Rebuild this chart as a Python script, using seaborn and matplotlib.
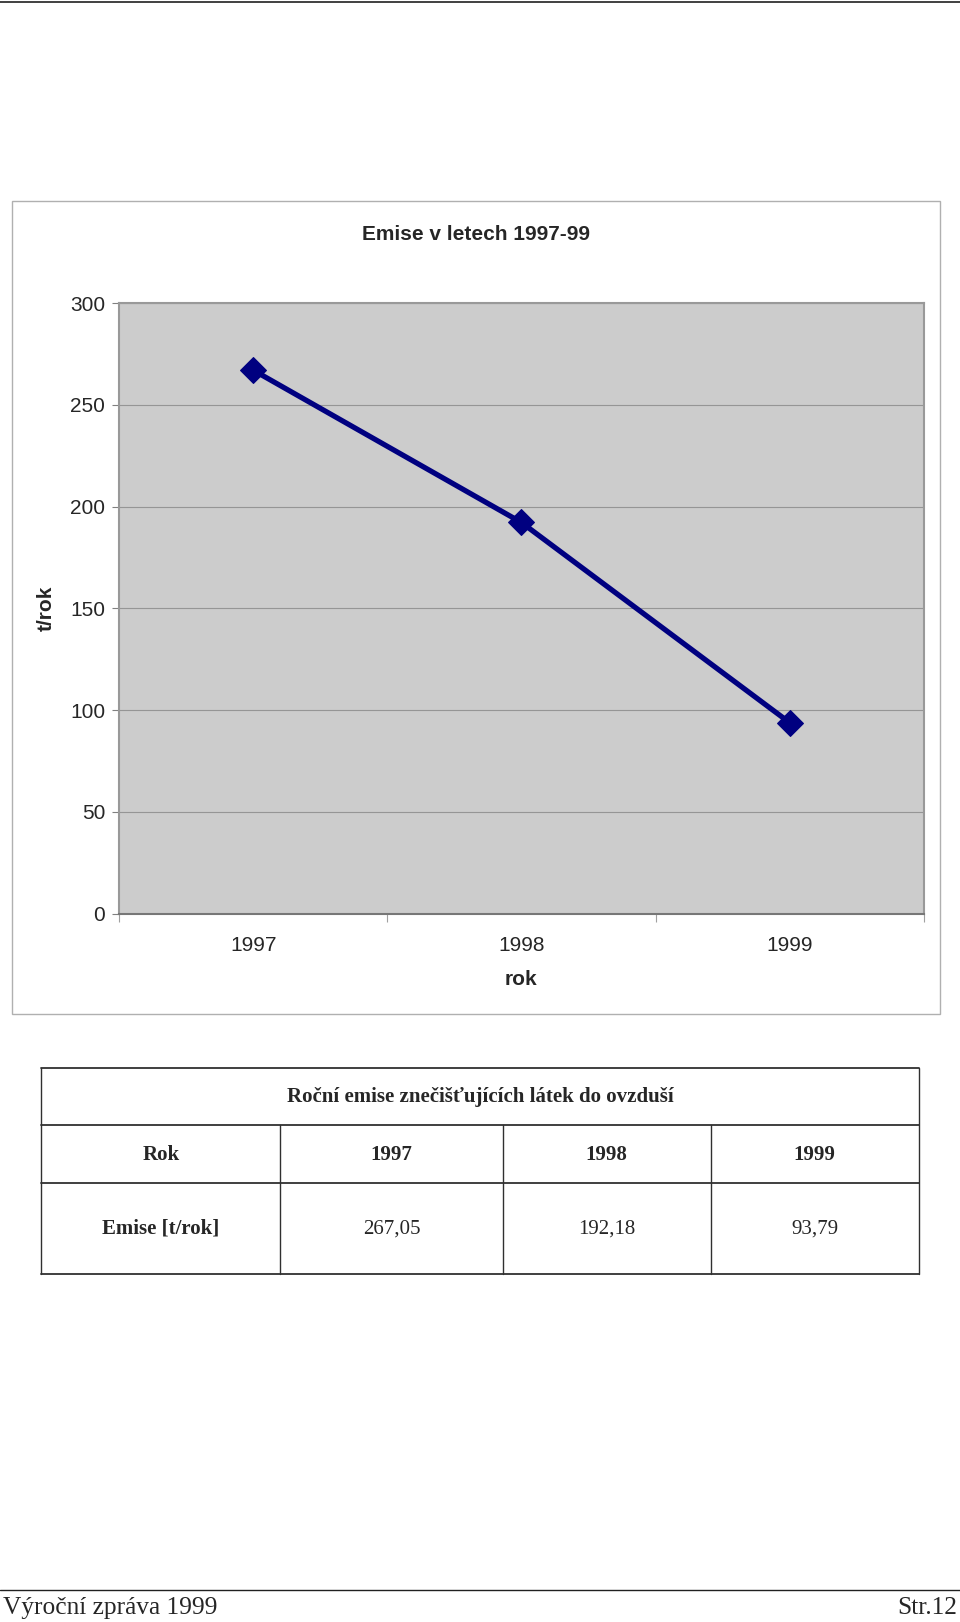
import numpy as np
import pandas as pd
import seaborn as sns
import matplotlib.pyplot as plt
from matplotlib.patches import Rectangle
from matplotlib.lines import Line2D

# Data
years = [1997, 1998, 1999]
emise = [267.05, 192.18, 93.79]
emise_txt = ['267,05', '192,18', '93,79']
y_ticks = [0, 50, 100, 150, 200, 250, 300]

W, H = 960, 1622

sns.set_style('white')
plt.rcParams['font.family'] = ['Liberation Sans', 'DejaVu Sans']

fig = plt.figure(figsize=(W / 100, H / 100), dpi=100)


def fx(x):
    return x / W


def fy(y):
    return 1 - y / H


# page lines (top and footer)
fig.add_artist(Line2D([0, 1], [fy(2), fy(2)], color='#404040', lw=1.4))
fig.add_artist(Line2D([0, 1], [fy(1590), fy(1590)], color='#202020', lw=1.0))

# chart frame
fig.add_artist(Rectangle((fx(12.4), fy(1013.8)), fx(940.3) - fx(12.4), fy(200.7) - fy(1013.8),
                         fill=False, edgecolor='#b0b0b0', lw=1.0))

ax = fig.add_axes([fx(119), fy(913.5), fx(923.8) - fx(119), fy(303.1) - fy(913.5)])
ax.set_facecolor('#cccccc')

df = pd.DataFrame({'rok': years, 'emise': emise})
sns.lineplot(data=df, x='rok', y='emise', ax=ax, color='#000080', lw=3.8,
             marker='D', markersize=13, markeredgecolor='#000080', zorder=3)

ax.set_xlim(1996.5, 1999.5)
ax.set_ylim(0, 300)
ax.set_yticks(y_ticks)
ax.set_yticklabels([str(v) for v in y_ticks], fontsize=15)
ax.yaxis.grid(True, color='#959595', lw=0.8)
ax.set_axisbelow(True)

# category boundaries as major ticks, labels at centres
ax.set_xticks([1996.5, 1997.5, 1998.5, 1999.5])
ax.set_xticklabels([])
ax.set_xticks(years, minor=True)
ax.set_xticklabels([str(y) for y in years], minor=True, fontsize=15)
ax.tick_params(axis='x', which='minor', length=0, pad=16)
ax.tick_params(axis='x', which='major', length=6, color='#a0a0a0', direction='out')
ax.tick_params(axis='y', length=5, color='#808080', direction='out', pad=5)
ax.xaxis.set_tick_params(bottom=True, which='both')
ax.yaxis.set_tick_params(left=True)

for s in ['top', 'right', 'left']:
    ax.spines[s].set_color('#999999')
    ax.spines[s].set_linewidth(1.5)
ax.spines['bottom'].set_color('#777777')
ax.spines['bottom'].set_linewidth(1.5)

ax.set_xlabel('')
ax.set_ylabel('')
fig.text(fx(476), fy(234), 'Emise v letech 1997-99', ha='center', va='center',
         fontsize=15, fontweight='bold')
fig.text(fx(46.6), fy(608), 't/rok', ha='center', va='center', rotation=90,
         fontsize=15, fontweight='bold')
fig.text(fx(521), fy(979), 'rok', ha='center', va='center',
         fontsize=15, fontweight='bold')

# table
serif = ['Liberation Serif', 'DejaVu Serif']
tx0, tx1 = 41.4, 918.6
rows_y = [1067.6, 1124.5, 1183.4, 1273.5]
cols_x = [41.4, 280.3, 502.7, 710.7, 918.6]
for y in rows_y:
    fig.add_artist(Line2D([fx(tx0), fx(tx1)], [fy(y), fy(y)], color='#303030', lw=1.3))
for i, x in enumerate(cols_x):
    y_top = rows_y[0] if i in (0, len(cols_x) - 1) else rows_y[1]
    fig.add_artist(Line2D([fx(x), fx(x)], [fy(y_top), fy(rows_y[-1])], color='#303030', lw=1.0))

fs = 15
fig.text(fx(480), fy(1096.6), 'Roční emise znečišťujících látek do ovzduší', ha='center',
         va='center', fontsize=fs, fontweight='bold', family=serif)
centres = [(cols_x[i] + cols_x[i + 1]) / 2 for i in range(4)]
fig.text(fx(centres[0]), fy(1154.5), 'Rok', ha='center', va='center', fontsize=fs,
         fontweight='bold', family=serif)
fig.text(fx(centres[0]), fy(1229), 'Emise [t/rok]', ha='center', va='center', fontsize=fs,
         fontweight='bold', family=serif)
for c, y, t in zip(centres[1:], years, emise_txt):
    fig.text(fx(c), fy(1154.5), str(y), ha='center', va='center', fontsize=fs,
             fontweight='bold', family=serif)
    fig.text(fx(c), fy(1229), t, ha='center', va='center', fontsize=fs, family=serif)

# footer
fig.text(fx(3), fy(1608), 'Výroční zpráva 1999', ha='left', va='center', fontsize=18.3, family=serif)
fig.text(fx(957), fy(1608), 'Str.12', ha='right', va='center', fontsize=18.3, family=serif)

fig.savefig('out.png', dpi=100)
